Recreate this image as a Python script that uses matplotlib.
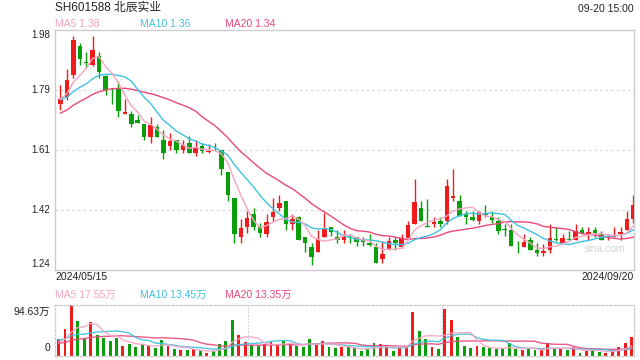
"""Candlestick chart with MA lines and volume panel (SH601588)."""
import numpy as np
import pandas as pd
import matplotlib
matplotlib.use("Agg")
import matplotlib.pyplot as plt

plt.rcParams['font.family'] = ['Liberation Sans', 'Noto Sans CJK SC']

# daily OHLC, 2024/05/15 .. 2024/09/20
opens = [1.752, 1.771, 1.841, 1.929, 1.880, 1.872, 1.898, 1.838, 1.792, 1.800,
         1.720, 1.720, 1.701, 1.689, 1.650, 1.680, 1.640, 1.621, 1.639, 1.610,
         1.631, 1.600, 1.621, 1.602, 1.610, 1.609, 1.541, 1.461, 1.341, 1.372,
         1.412, 1.371, 1.351, 1.402, 1.430, 1.451, 1.382, 1.401, 1.341, 1.310,
         1.294, 1.341, 1.371, 1.341, 1.333, 1.341, 1.340, 1.332, 1.322, 1.309,
         1.274, 1.304, 1.332, 1.310, 1.338, 1.382, 1.430, 1.373, 1.382, 1.391,
         1.391, 1.461, 1.451, 1.412, 1.402, 1.391, 1.415, 1.402, 1.391, 1.364,
         1.361, 1.311, 1.310, 1.332, 1.302, 1.291, 1.302, 1.333, 1.322, 1.333,
         1.332, 1.363, 1.351, 1.363, 1.350, 1.340, 1.340, 1.351, 1.363, 1.395]
closes = [1.766, 1.825, 1.947, 1.891, 1.878, 1.916, 1.851, 1.794, 1.790, 1.730,
          1.726, 1.689, 1.692, 1.650, 1.685, 1.650, 1.600, 1.637, 1.610, 1.625,
          1.600, 1.615, 1.605, 1.607, 1.608, 1.552, 1.471, 1.351, 1.369, 1.399,
          1.372, 1.354, 1.387, 1.419, 1.446, 1.382, 1.396, 1.333, 1.322, 1.279,
          1.336, 1.369, 1.355, 1.333, 1.340, 1.338, 1.324, 1.324, 1.315, 1.261,
          1.288, 1.327, 1.322, 1.338, 1.377, 1.449, 1.391, 1.371, 1.387, 1.382,
          1.498, 1.466, 1.405, 1.402, 1.392, 1.418, 1.410, 1.394, 1.360, 1.362,
          1.312, 1.309, 1.324, 1.302, 1.291, 1.299, 1.338, 1.331, 1.338, 1.331,
          1.360, 1.353, 1.356, 1.353, 1.332, 1.343, 1.343, 1.356, 1.395, 1.440]
highs = [1.808, 1.860, 1.960, 1.939, 1.910, 1.960, 1.910, 1.841, 1.800, 1.821,
         1.767, 1.730, 1.716, 1.690, 1.710, 1.690, 1.670, 1.660, 1.640, 1.640,
         1.651, 1.639, 1.631, 1.629, 1.631, 1.609, 1.541, 1.461, 1.397, 1.422,
         1.430, 1.384, 1.412, 1.461, 1.471, 1.451, 1.412, 1.405, 1.341, 1.322,
         1.363, 1.414, 1.371, 1.361, 1.361, 1.350, 1.340, 1.340, 1.350, 1.322,
         1.330, 1.340, 1.340, 1.350, 1.391, 1.521, 1.451, 1.459, 1.401, 1.401,
         1.521, 1.550, 1.471, 1.420, 1.420, 1.420, 1.441, 1.420, 1.401, 1.382,
         1.382, 1.327, 1.351, 1.341, 1.322, 1.320, 1.381, 1.371, 1.351, 1.360,
         1.381, 1.372, 1.372, 1.372, 1.360, 1.351, 1.372, 1.371, 1.422, 1.471]
lows = [1.731, 1.764, 1.831, 1.870, 1.862, 1.869, 1.831, 1.780, 1.751, 1.711,
        1.720, 1.681, 1.691, 1.641, 1.631, 1.649, 1.581, 1.610, 1.600, 1.601,
        1.599, 1.591, 1.600, 1.600, 1.605, 1.533, 1.453, 1.322, 1.322, 1.353,
        1.363, 1.341, 1.341, 1.391, 1.422, 1.361, 1.361, 1.333, 1.294, 1.253,
        1.294, 1.341, 1.343, 1.322, 1.322, 1.322, 1.312, 1.312, 1.312, 1.261,
        1.261, 1.302, 1.302, 1.307, 1.338, 1.382, 1.391, 1.371, 1.371, 1.372,
        1.382, 1.451, 1.405, 1.382, 1.391, 1.382, 1.402, 1.384, 1.351, 1.343,
        1.312, 1.291, 1.310, 1.302, 1.283, 1.283, 1.291, 1.327, 1.322, 1.331,
        1.332, 1.351, 1.333, 1.341, 1.332, 1.333, 1.340, 1.333, 1.363, 1.384]

# volume in 万 shares
volumes = [30.1, 48.9, 94.63, 63.9, 31.3, 62.0, 37.6, 32.0, 26.3, 32.0,
           16.9, 20.7, 15.0, 20.7, 18.8, 13.2, 28.2, 16.9, 11.3, 9.4,
           9.4, 11.3, 7.5, 5.6, 7.5, 20.7, 26.3, 65.8, 37.6, 24.4,
           18.8, 16.9, 20.7, 24.4, 20.7, 26.3, 20.7, 16.9, 15.0, 30.1,
           20.7, 26.3, 15.0, 13.2, 15.0, 15.0, 13.2, 7.5, 11.3, 22.6,
           20.7, 18.8, 7.5, 13.2, 15.0, 80.8, 45.1, 30.1, 15.0, 11.3,
           86.5, 65.8, 33.8, 16.9, 13.2, 16.9, 15.0, 13.2, 11.3, 11.3,
           24.0, 11.3, 10.2, 11.3, 9.4, 10.3, 24.0, 11.3, 11.3, 9.4,
           16.6, 5.6, 7.5, 10.0, 7.0, 4.4, 9.37, 16.0, 24.0, 34.0]

prior_closes = [1.64, 1.65, 1.66, 1.67, 1.68, 1.69, 1.70, 1.70, 1.71, 1.72,
                1.75, 1.77, 1.76, 1.77, 1.76, 1.74, 1.77, 1.79, 1.764]
prior_volumes = [15, 18, 14, 17, 16, 19, 15, 18, 16, 17,
                 35, 30, 38, 32, 36, 20, 25, 22, 25]

price_ticks = [1.98, 1.795, 1.61, 1.425, 1.24]
price_labels = ['1.98', '1.79', '1.61', '1.42', '1.24']
start_label = '2024/05/15'
end_label = '2024/09/20'

UP = '#f01c1c'
DOWN = '#0a9f0a'
MA_COLORS = {5: '#f6a5c2', 10: '#3fc2e2', 20: '#e9487e'}
GRID = '#dddddd'
TEXT = '#222222'

W, H = 640, 360


def fx(x):
	return x / W


def fy(y):
	return 1 - y / H


n = len(closes)
idx = np.arange(n)
o = np.array(opens)
c = np.array(closes)
up = c >= o
colors = np.where(up, UP, DOWN)

all_close = pd.Series(prior_closes + closes)
all_vol = pd.Series(prior_volumes + volumes)
k = len(prior_closes)
ma_price = {w: all_close.rolling(w).mean().to_numpy()[k:] for w in (5, 10, 20)}
ma_vol = {w: all_vol.rolling(w).mean().to_numpy()[k:] for w in (5, 10, 20)}

fig = plt.figure(figsize=(W / 100, H / 100), dpi=100)

# ---- price panel
left, right = 54.5, 634
ax = fig.add_axes([fx(left), fy(269.7), fx(right - left), 240 / H])
ax.set_xlim(-0.93, 89.08)
ax.set_ylim(1.24, 1.98)
for t in price_ticks[1:-1]:
	ax.axhline(t, color=GRID, lw=1, ls=(0, (2, 2)), zorder=0)

ax.vlines(idx, lows, highs, colors=colors, lw=1, zorder=2)
body = np.maximum(np.abs(c - o), 0.0025)
ax.bar(idx, body, bottom=np.minimum(o, c), width=0.7, color=colors, lw=0, zorder=3)

for w in (20, 10, 5):
	ax.plot(idx, ma_price[w], color=MA_COLORS[w], lw=1.0, zorder=4)

ax.set_xticks([])
ax.set_yticks([])
for s in ax.spines.values():
	s.set_color('#cccccc')
	s.set_linewidth(1)

ytr = ax.get_yaxis_transform()
for i, (t, lab) in enumerate(zip(price_ticks, price_labels)):
	va = 'top' if i == 0 else ('bottom' if i == len(price_ticks) - 1 else 'center')
	yoff = 0.001 if i == len(price_ticks) - 1 else 0
	ax.text(-0.008, t + yoff, lab, transform=ytr, ha='right', va=va, fontsize=7, color=TEXT)

ax.text(0.985, 0.085, 'sina.com', transform=ax.transAxes, ha='right', va='center',
        fontsize=7.5, color='#d4d4d4')

# ---- volume panel
axv = fig.add_axes([fx(left), fy(355.5), fx(right - left), 50.5 / H])
axv.set_xlim(-0.63, 89.38)
axv.set_ylim(0, max(volumes))
axv.bar(idx, volumes, width=0.45, color=colors, lw=0, zorder=2)
for w in (20, 10, 5):
	axv.plot(idx, ma_vol[w], color=MA_COLORS[w], lw=1.0, alpha=0.9, zorder=3)
for xv in (29.5, 59.5):
	axv.axvline(xv, color='#cccccc', lw=0.8, ls=(0, (1.5, 1.5)), zorder=0)
axv.set_xticks([])
axv.set_yticks([])
for s in axv.spines.values():
	s.set_color('#cccccc')
	s.set_linewidth(1)
	s.set_linestyle((0, (1.5, 1.5)))

# ---- texts
fig.text(fx(55), fy(8), 'SH601588 北辰实业', fontsize=8.5, color=TEXT, va='center', ha='left')
fig.text(fx(634), fy(9), '09-20 15:00', fontsize=7.5, color=TEXT, va='center', ha='right')

ma_txt_x = [55, 140, 225]
for x, w in zip(ma_txt_x, (5, 10, 20)):
	fig.text(fx(x), fy(24), f'MA{w} {ma_price[w][-1]:.2f}', fontsize=7.5,
	         color=MA_COLORS[w], va='center', ha='left')
	fig.text(fx(x), fy(294.5), f'MA{w} {ma_vol[w][-1]:.2f}万', fontsize=7.5,
	         color=MA_COLORS[w], va='center', ha='left')

fig.text(fx(55), fy(277.5), start_label, fontsize=7.5, color=TEXT, va='center', ha='left')
fig.text(fx(634), fy(277.5), end_label, fontsize=7.5, color=TEXT, va='center', ha='right')

fig.text(fx(50), fy(311.5), f'{max(volumes):.2f}万', fontsize=7.5, color=TEXT, va='center', ha='right')
fig.text(fx(50), fy(348), '0', fontsize=7.5, color=TEXT, va='center', ha='right')

fig.savefig('out.png', dpi=100)
